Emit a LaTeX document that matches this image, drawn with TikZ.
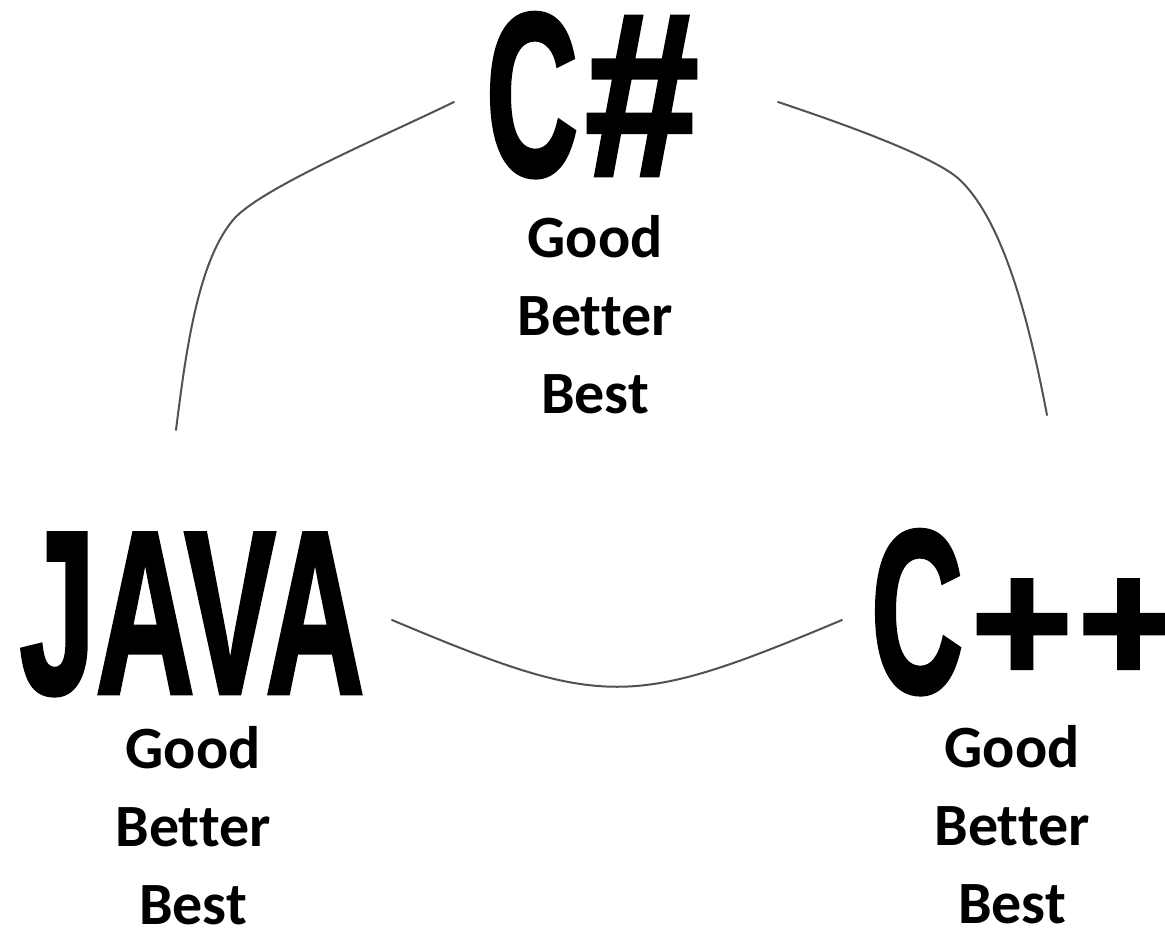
\documentclass[tikz,border=0pt]{standalone}
\usepackage{fontspec}
\setmainfont{Carlito}[Ligatures=NoCommon]
\newfontfamily\bigfont[FakeBold=2]{Liberation Sans}
\usepackage{graphicx}
\tikzset{
  lang/.style={inner sep=0pt, outer sep=0pt, font=\bigfont\bfseries\fontsize{232}{232}\selectfont},
  rank/.style={inner sep=0pt, outer sep=0pt, align=center, anchor=north,
               font=\bfseries\fontsize{60}{78}\selectfont},
  link/.style={draw=black!68, line width=2pt, line cap=round}
}
\newcommand{\narrowC}{\scalebox{0.55}[1]{C}}
\newcommand{\plusglyph}{\raisebox{10pt}{\scalebox{0.75}{+}}}
\begin{document}
\begin{tikzpicture}[x=1pt,y=-1pt]
\useasboundingbox[fill=white] (0,0) rectangle (1165,927);
% languages
\node[lang, anchor=base west] (cs) at (486,175) {\narrowC\kern7pt\scalebox{0.88}[1]{\#}};
\node[lang, anchor=base] (java) at (192,693) {\scalebox{0.59}[1]{JAVA}};
\node[lang, anchor=base west] (cpp) at (871,692) {\narrowC\kern8pt\plusglyph\kern5pt\plusglyph};
% rankings
\node[rank] (csr) at (595,215) {Good\\Better\\Best};
\node[rank] (javar) at (193,726) {Good\\Better\\Best};
\node[rank] (cppr) at (1012,725) {Good\\Better\\Best};
% connector end points
\coordinate (csL) at (454,102);
\coordinate (csR) at (778,102);
\coordinate (javaT) at (176,430);
\coordinate (javaR) at (392,620);
\coordinate (cppT) at (1047,415);
\coordinate (cppL) at (842,620);
\coordinate (kL) at (233,220);
\coordinate (kR) at (960,180);
% connectors
\draw[link] (csL) .. controls (382,137) and (259,189) .. (kL)
            .. controls (198,262) and (186,350) .. (javaT);
\draw[link] (csR) .. controls (835,121) and (935,156) .. (kR)
            .. controls (1007,225) and (1032,337) .. (cppT);
\draw[link] (javaR) .. controls (604,709) and (630,709) .. (cppL);
\end{tikzpicture}
\end{document}
